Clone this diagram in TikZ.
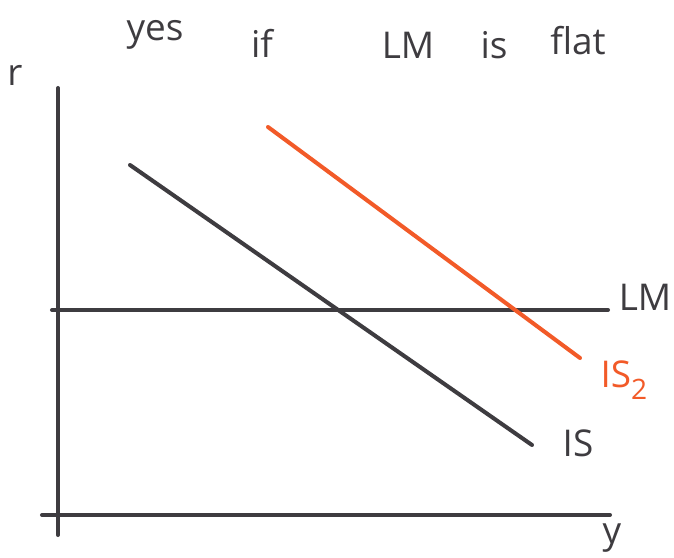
\documentclass[tikz,border=0pt]{standalone}
\usepackage{fontspec}
\setmainfont{Open Sans}
\usetikzlibrary{positioning}
\definecolor{pencil}{RGB}{62,60,64}
\definecolor{marker}{RGB}{242,90,40}
\tikzset{
  curve/.style={draw=#1,line width=2.3pt,line cap=round},
  curve/.default=pencil,
  hand/.style={text=#1,font=\fontsize{21}{24}\selectfont,inner sep=0pt},
  hand/.default=pencil,
}
\begin{document}
\begin{tikzpicture}[x=0.02cm,y=-0.02cm]
  \useasboundingbox (0,0) rectangle (674,558);
  % heading
  \node[hand] (yes) at (155,35) {yes};
  \node[hand] (if) at (262,43) {if};
  \node[hand] (lm) at (408,45) {LM};
  \node[hand] (is) at (494,45) {is};
  \node[hand] (flat) at (578,41) {flat};
  % axes
  \coordinate (vtop) at (58,88);
  \coordinate (vbot) at (58,535);
  \coordinate (hleft) at (42,515);
  \coordinate (hright) at (610,515);
  \draw[curve] (vtop) -- (vbot);
  \draw[curve] (hleft) -- (hright);
  \node[hand] (rlab) at (15,75) {r};
  \node[hand] (ylab) at (612,538) {y};
  % curves
  \coordinate (lmA) at (52,310);
  \coordinate (lmB) at (608,310);
  \coordinate (isA) at (130,165);
  \coordinate (isB) at (532,445);
  \coordinate (istA) at (268,127);
  \coordinate (istB) at (580,358);
  \draw[curve] (lmA) -- (lmB);
  \draw[curve] (isA) -- (isB);
  \draw[curve=marker] (istA) -- (istB);
  \node[hand] (lmlab) at (645,297) {LM};
  \node[hand] (islab) at (578,443) {IS};
  \node[hand=marker] (istlab) at (624,380) {IS\raisebox{-0.6ex}{\fontsize{16}{18}\selectfont 2}};
\end{tikzpicture}
\end{document}
